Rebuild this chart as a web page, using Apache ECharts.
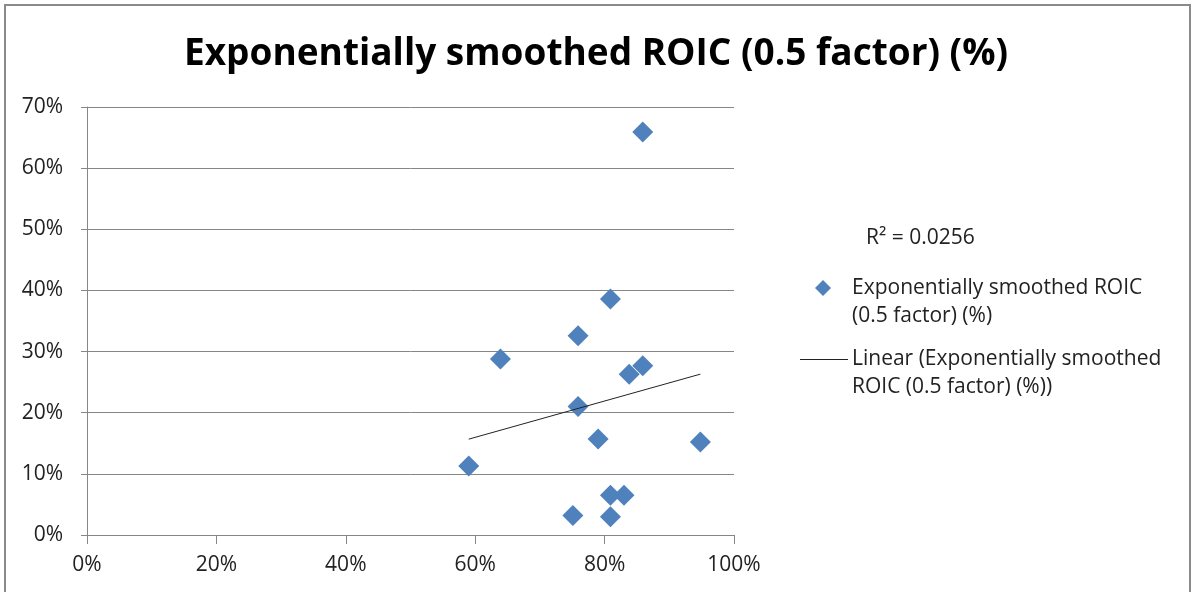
<!DOCTYPE html>
<html>
<head>
<meta charset="utf-8">
<script src="https://cdn.jsdelivr.net/npm/echarts@6/dist/echarts.min.js"></script>
<style>
html,body{margin:0;padding:0;background:#fff;}
#chart{width:1192px;height:592px;}
</style>
</head>
<body>
<div id="chart"></div>
<script>
// Data (percent values)
var titleText = 'Exponentially smoothed ROIC (0.5 factor) (%)';
var seriesName = 'Exponentially smoothed ROIC (0.5 factor) (%)';
var trendName = 'Linear (Exponentially smoothed ROIC (0.5 factor) (%))';
var r2Label = 'R² = 0.0256';
var xValues = [59.0, 63.9, 75.9, 80.9, 75.9, 83.8, 85.9, 79.0, 94.8, 80.9, 83.0, 75.1, 80.9, 85.9];
var yValues = [11.3, 28.8, 32.6, 38.6, 21.0, 26.3, 27.7, 15.7, 15.2, 6.5, 6.5, 3.2, 3.0, 65.9];
var xTicks = [0, 20, 40, 60, 80, 100];
var yTicks = [0, 10, 20, 30, 40, 50, 60, 70];

var points = xValues.map(function (x, i) { return [x, yValues[i]]; });

// least-squares trend line
var n = xValues.length, mx = 0, my = 0;
for (var i = 0; i < n; i++) { mx += xValues[i]; my += yValues[i]; }
mx /= n; my /= n;
var sxy = 0, sxx = 0;
for (var i = 0; i < n; i++) { sxy += (xValues[i] - mx) * (yValues[i] - my); sxx += (xValues[i] - mx) * (xValues[i] - mx); }
var slope = sxy / sxx, intercept = my - slope * mx;
var xMin = Math.min.apply(null, xValues), xMax = Math.max.apply(null, xValues);
var trend = [[xMin, intercept + slope * xMin], [xMax, intercept + slope * xMax]];

var chart = echarts.init(document.getElementById('chart'), null, {renderer: 'canvas'});
var axisGray = '#868686';
var font = 'Open Sans';
var lblSize = 21;
var option = {
  animation: false,
  backgroundColor: '#fff',
  title: {
    text: titleText,
    left: 'center',
    top: 31,
    textStyle: {fontFamily: font, fontWeight: 'bold', fontSize: 37, color: '#000'}
  },
  grid: {left: 87, right: 458, top: 107, bottom: 57},
  xAxis: {
    type: 'value', min: 0, max: 100, interval: 20,
    axisLine: {show: true, lineStyle: {color: axisGray, width: 1}},
    axisTick: {show: true, length: 9, lineStyle: {color: axisGray}},
    splitLine: {show: false},
    axisLabel: {formatter: '{value}%', fontFamily: font, fontSize: lblSize, color: '#222', margin: 20}
  },
  yAxis: {
    type: 'value', min: 0, max: 70, interval: 10,
    axisLine: {show: true, lineStyle: {color: axisGray, width: 1}},
    axisTick: {show: true, length: 6, inside: false, lineStyle: {color: axisGray}},
    splitLine: {show: true, lineStyle: {color: axisGray, width: 1}},
    axisLabel: {formatter: '{value}%', fontFamily: font, fontSize: lblSize, color: '#222', margin: 24}
  },
  series: [
    {
      name: trendName, type: 'line', data: trend, symbol: 'none',
      lineStyle: {color: '#222', width: 1}, z: 3
    },
    {
      name: seriesName, type: 'scatter', data: points, symbol: 'diamond', symbolSize: 21,
      itemStyle: {color: '#4F81BD', opacity: 1}, z: 2
    }
  ],
  graphic: [
    {type: 'rect', shape: {x: 5, y: 5, width: 1185, height: 620}, style: {fill: 'none', stroke: '#8a8a8a', lineWidth: 2}, silent: true},
    {type: 'text', x: 866, y: 224, style: {text: r2Label, font: lblSize + 'px "' + font + '"', fill: '#222', lineHeight: 28}},
    {type: 'polygon', shape: {points: [[823, 280], [831, 288], [823, 296], [815, 288]]}, style: {fill: '#4F81BD'}},
    {type: 'text', x: 852, y: 274, style: {text: 'Exponentially smoothed ROIC\n(0.5 factor) (%)', font: lblSize + 'px "' + font + '"', fill: '#222', lineHeight: 28}},
    {type: 'line', shape: {x1: 800, y1: 359.5, x2: 848, y2: 359.5}, style: {stroke: '#222', lineWidth: 1}},
    {type: 'text', x: 852, y: 345, style: {text: 'Linear (Exponentially smoothed\nROIC (0.5 factor) (%))', font: lblSize + 'px "' + font + '"', fill: '#222', lineHeight: 28}}
  ]
};
chart.setOption(option);
</script>
</body>
</html>
